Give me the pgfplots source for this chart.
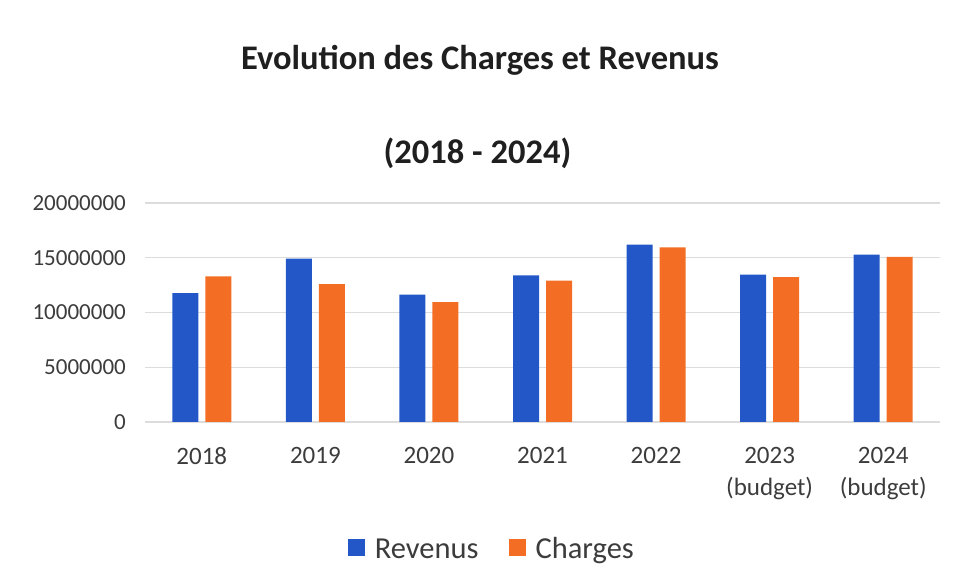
\documentclass[border=0pt]{standalone}
\usepackage{pgfplots}
\pgfplotsset{compat=1.18}
\usepackage{fontspec}
\setmainfont{Carlito}

\definecolor{revblue}{RGB}{35,87,200}
\definecolor{chgorange}{RGB}{243,110,36}
\definecolor{gridgray}{RGB}{220,220,220}
\definecolor{txtgray}{RGB}{60,60,60}

\begin{document}
\begin{tikzpicture}
\useasboundingbox (0,0) rectangle (955pt,586pt);
\begin{axis}[
    at={(145pt,164pt)}, anchor=south west,
    scale only axis, width=795pt, height=219pt,
    ybar=7pt, bar width=26pt,
    xmin=-0.5, xmax=6.5, ymin=0, ymax=20000000,
    xtick={0,...,6},
    xticklabels={2018,2019,2020,2021,2022,{2023\\(budget)},{2024\\(budget)}},
    ytick={0,5000000,10000000,15000000,20000000},
    scaled y ticks=false,
    yticklabel style={/pgf/number format/fixed, /pgf/number format/1000 sep={},
        /pgf/number format/assume math mode=true,
        font=\fontsize{23}{27}\selectfont, text=txtgray, inner sep=0pt,
        anchor=east, xshift=-19pt},
    xticklabel style={font=\fontsize{25}{32}\selectfont, text=txtgray,
        align=center, inner sep=0pt, anchor=north, yshift=-25pt},
    major tick length=0pt,
    ymajorgrids, grid style={gridgray, line width=1.2pt},
    axis line style={draw=none},
    clip=false,
    legend columns=-1,
    legend style={at={(0.435,-0.580)}, anchor=center, draw=none, inner sep=0pt,
        font=\fontsize{30.5}{36}\selectfont, text=txtgray,
        nodes={inner sep=0pt},
        /tikz/every odd column/.append style={column sep=10pt},
        /tikz/every even column/.append style={column sep=30pt}},
    legend image code/.code={\fill[#1] (0pt,-7pt) rectangle (17pt,10pt);},
]
\addplot[fill=revblue, draw=none] coordinates {
    (0,11770000) (1,14930000) (2,11640000) (3,13400000)
    (4,16200000) (5,13450000) (6,15280000)
};
\addplot[fill=chgorange, draw=none] coordinates {
    (0,13290000) (1,12590000) (2,10950000) (3,12920000)
    (4,15950000) (5,13240000) (6,15070000)
};
\legend{Revenus, Charges}

\node[anchor=base, font=\bfseries\fontsize{34.5}{40}\selectfont, text=black!88]
    at (axis description cs:0.4214,1.6073) {Evolution des Charges et Revenus};
\node[anchor=base, font=\bfseries\fontsize{34.5}{40}\selectfont, text=black!88]
    at (axis description cs:0.4182,1.1826) {(2018 - 2024)};
\end{axis}
\end{tikzpicture}
\end{document}
